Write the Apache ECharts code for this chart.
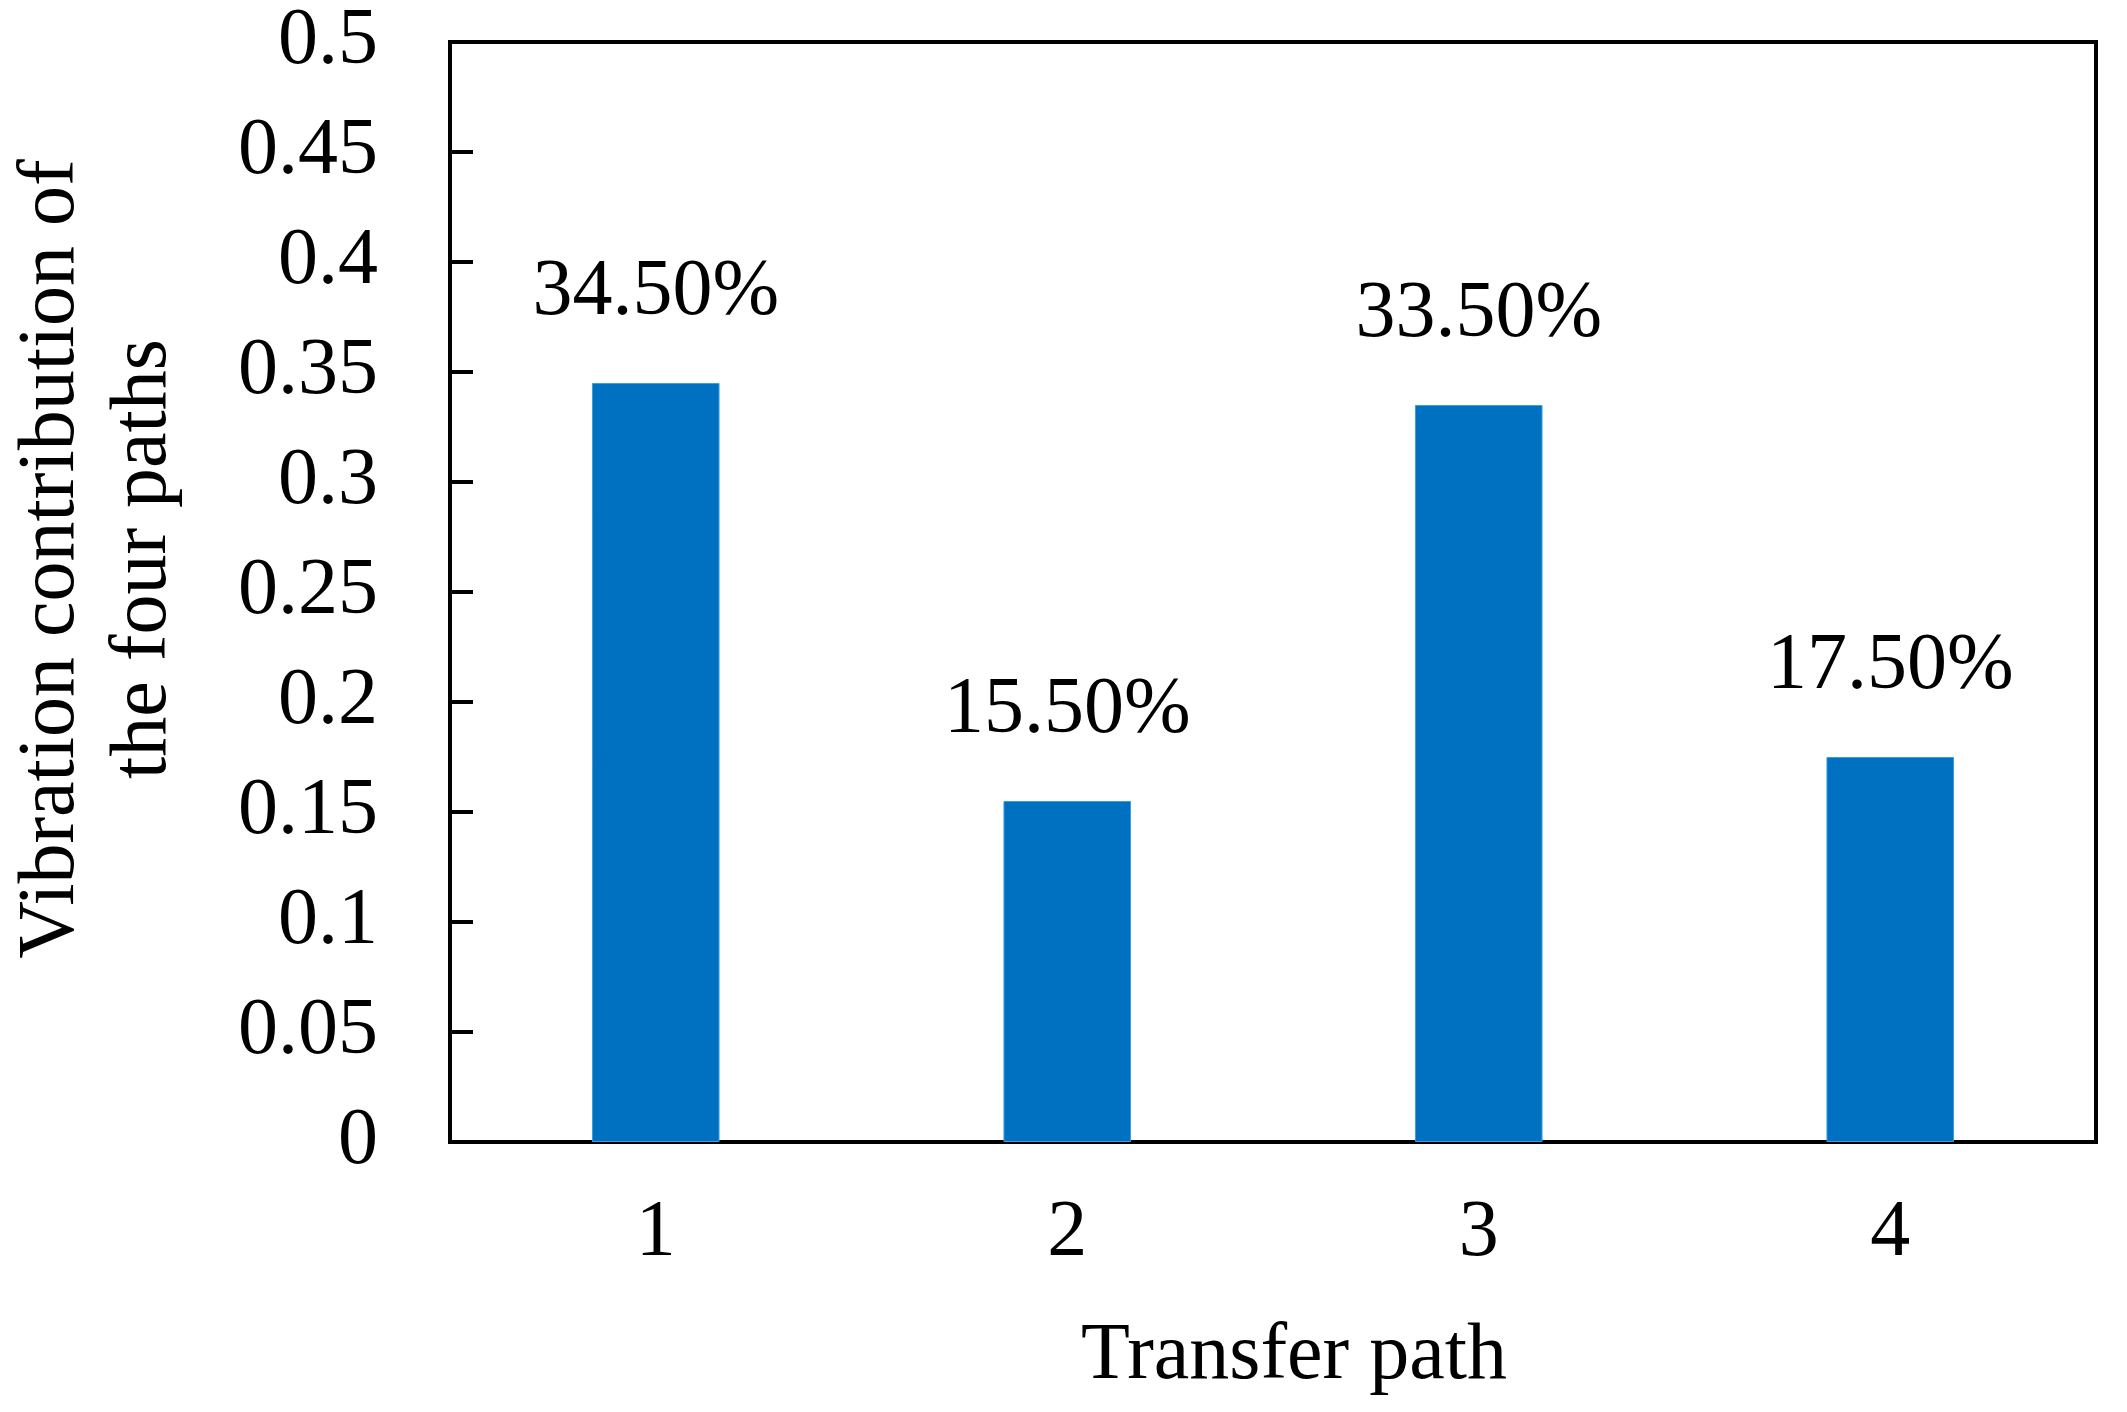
<!DOCTYPE html>
<html>
<head>
<meta charset="utf-8">
<script src="https://cdn.jsdelivr.net/npm/echarts@6/dist/echarts.min.js"></script>
<style>
html, body { margin: 0; padding: 0; background: #fff; }
#chart { width: 2127px; height: 1412px; }
</style>
</head>
<body>
<div id="chart"></div>
<script>
// transfer paths and their vibration contribution
var categories = ['1', '2', '3', '4']
var contribution = [0.345, 0.155, 0.335, 0.175]
var yTicks = { min: 0, max: 0.5, interval: 0.05 }

var font = '"Liberation Serif", "Times New Roman", serif'

var chart = echarts.init(document.getElementById('chart'))
var option = {
  animation: false,
  backgroundColor: '#fff',
  grid: {
    left: 450,
    right: 31,
    top: 42,
    bottom: 270,
    show: true,
    borderColor: '#000',
    borderWidth: 4
  },
  xAxis: {
    type: 'category',
    data: categories,
    axisLine: { show: true, lineStyle: { color: '#000', width: 4 } },
    axisTick: { show: false },
    axisLabel: {
      color: '#000',
      fontFamily: font,
      fontSize: 80,
      margin: 52
    },
    splitLine: { show: false }
  },
  yAxis: {
    type: 'value',
    min: yTicks.min,
    max: yTicks.max,
    interval: yTicks.interval,
    axisLine: { show: true, lineStyle: { color: '#000', width: 4 } },
    axisTick: { show: true, inside: true, length: 23, lineStyle: { color: '#000', width: 4 } },
    axisLabel: {
      color: '#000',
      fontFamily: font,
      fontSize: 80,
      margin: 72,
      formatter: function(v) {
        return String(parseFloat(v.toFixed(2)))
      }
    },
    splitLine: { show: false }
  },
  series: [
    {
      type: 'bar',
      data: contribution,
      barWidth: '31%',
      itemStyle: { color: '#0070C0', borderColor: '#3a9ee0', borderWidth: 1 },
      label: {
        show: true,
        position: 'top',
        distance: 50,
        color: '#000',
        fontFamily: font,
        fontSize: 80,
        formatter: function(p) {
          return (p.value * 100).toFixed(2) + '%'
        }
      }
    }
  ],
  graphic: [
    {
      type: 'text',
      x: 98,
      y: 559,
      rotation: Math.PI / 2,
      style: {
        text: 'Vibration contribution of\nthe four paths',
        fill: '#000',
        font: '80px ' + font,
        lineHeight: 92,
        align: 'center',
        verticalAlign: 'middle'
      }
    },
    {
      type: 'text',
      x: 1294,
      y: 1357,
      style: {
        text: 'Transfer path',
        fill: '#000',
        font: '80px ' + font,
        align: 'center',
        verticalAlign: 'middle'
      }
    }
  ]
}
chart.setOption(option)
window.addEventListener('resize', () => {
  chart.resize()
})
</script>
</body>
</html>
